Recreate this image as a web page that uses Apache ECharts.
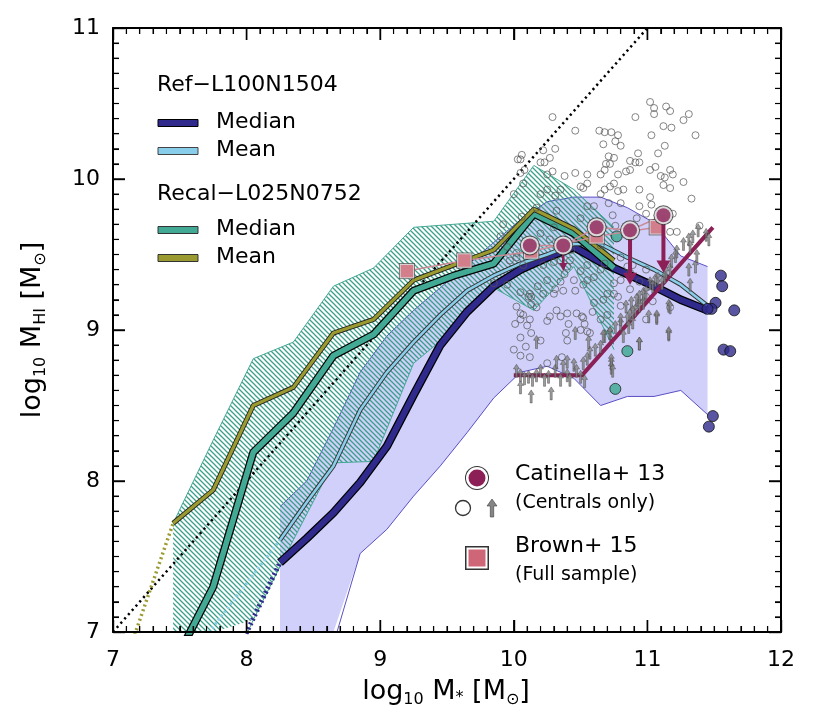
<!DOCTYPE html>
<html>
<head>
<meta charset="utf-8">
<script src="https://cdn.jsdelivr.net/npm/echarts@6/dist/echarts.min.js"></script>
<style>
  html, body { margin: 0; padding: 0; background: #fff; }
  #view { width: 830px; height: 718px; }
</style>
</head>
<body>
<div id="view"></div>
<script>
// ---- data (log10 M*, log10 MHI) ----
// Ref-L100N1504 bins
var refX      = [8.25, 8.45, 8.65, 8.85, 9.05, 9.25, 9.45, 9.65, 9.85, 10.05, 10.25, 10.45, 10.65, 10.85, 11.05, 11.25, 11.45];
var refMedian = [7.46, 7.62, 7.79, 7.99, 8.23, 8.57, 8.90, 9.12, 9.29, 9.40, 9.48, 9.55, 9.45, 9.37, 9.29, 9.20, 9.13];
var refMean   = [7.61, 7.86, 8.10, 8.47, 8.72, 8.92, 9.10, 9.26, 9.36, 9.44, 9.50, 9.57, 9.57, 9.48, 9.40, 9.30, 9.16];
var refHi     = [7.83, 8.00, 8.35, 8.72, 8.96, 9.13, 9.28, 9.43, 9.58, 9.73, 9.85, 9.88, 9.88, 9.81, 9.71, 9.49, 9.42];
var refLo     = [6.50, 6.70, 6.92, 7.52, 7.68, 7.90, 8.10, 8.32, 8.55, 8.72, 8.76, 8.68, 8.50, 8.56, 8.56, 8.60, 8.44];
var refMedDotX  = [7.85, 8.05, 8.25];
var refMedDot   = [6.72, 7.09, 7.46];
var refMeanDotX = [7.65, 7.85, 8.05, 8.25];
var refMeanDot  = [6.92, 7.15, 7.38, 7.61];
var refIndX = [11.55, 11.56, 11.51, 11.48, 11.45, 11.65, 11.57, 11.62, 11.49, 11.46];
var refIndY = [9.36, 9.29, 9.18, 9.14, 9.14, 9.13, 8.87, 8.86, 8.43, 8.36];

// Recal-L025N0752 bins
var recalX      = [7.45, 7.75, 8.05, 8.35, 8.65, 8.95, 9.25, 9.55, 9.85, 10.15, 10.45, 10.75];
var recalMedian = [6.78, 7.30, 8.19, 8.45, 8.83, 8.97, 9.26, 9.36, 9.44, 9.77, 9.64, 9.41];
var recalMean   = [7.72, 7.94, 8.50, 8.62, 8.98, 9.07, 9.33, 9.43, 9.53, 9.80, 9.67, 9.46];
var recalHi     = [7.72, 8.27, 8.81, 8.92, 9.29, 9.41, 9.68, 9.70, 9.72, 10.09, 9.93, 9.68];
var recalLo     = [6.00, 6.50, 7.08, 7.61, 8.12, 8.13, 8.78, 9.00, 9.28, 9.13, 9.42, 8.87];
var recalMeanDotX = [7.15, 7.45];
var recalMeanDot  = [6.95, 7.72];
var recalIndX = [10.77, 10.85, 10.76];
var recalIndY = [9.62, 8.86, 8.61];

// one-to-one line
var oneX = [7, 11];
var oneY = [7, 11];

// Catinella+13 stacks and Brown+15
var catX = [10.12, 10.37, 10.62, 10.87, 11.12];
var catY = [9.56, 9.56, 9.68, 9.66, 9.76];
var catArrowX   = [10.37, 10.87, 11.12];
var catArrowTop = [9.56, 9.66, 9.76];
var catArrowTip = [9.39, 9.30, 9.38];
var brownX = [9.20, 9.63, 10.13, 10.62, 11.07];
var brownY = [9.39, 9.46, 9.52, 9.62, 9.68];
var limX = [10.0, 10.51, 11.49];
var limY = [8.70, 8.70, 9.68];

// Catinella individual detections (open circles)
var detX = [10.29,10.46,10.64,10.68,10.73,10.78,10.76,10.80,10.67,10.91,11.02,11.05,11.05,11.14,11.17,11.27,11.31,11.36,11.12,11.18,
  11.03,11.13,11.08,10.93,10.87,10.91,10.94,10.71,10.75,10.69,10.72,10.06,10.05,10.08,10.22,10.31,10.27,10.20,10.23,10.29,
  10.25,10.46,10.55,10.65,10.68,10.78,10.84,10.87,11.02,11.06,11.10,11.13,11.17,11.19,
  10.20,10.25,10.31,10.07,10.35,10.38,10.52,10.55,10.65,10.75,10.80,10.82,10.17,10.32,10.06,10.00,10.30,10.50,10.20,10.27,
  10.02,10.65,10.80,10.85,10.75,10.70,10.46,10.52,10.31,10.11,10.05,9.95,9.85,
  10.50,10.68,10.72,10.78,10.94,11.02,11.03,11.12,11.17,11.27,11.33,11.39,11.19,11.17,11.22,10.94,10.92,10.99,10.74,10.76,
  10.60,10.55,10.71,10.43,10.42,10.55,10.65,10.68,10.80,10.99,10.50,10.40,10.35,10.30,10.22,10.07,10.02,9.97,10.38,10.35,
  10.25,10.18,10.22,10.12,10.37,10.60,10.55,10.75,10.78,10.67,10.60,10.52,10.32,10.35,10.40,10.05,10.10,10.17,10.13,10.45,
  10.30,10.50,10.65,10.87,10.89,10.94,10.87,10.80,10.94,10.99,11.04,10.99,11.17,
  10.02,10.05,10.07,10.13,10.01,10.12,10.25,10.27,10.41,10.47,10.51,10.53,10.59,10.70,10.05,10.09,10.00,10.13,10.20,10.39,
  10.40,10.55,10.57,10.05,10.12,10.25,10.36,10.03,10.05,9.90,9.95,9.92];
var detY = [10.41,10.32,10.32,10.31,10.31,10.29,10.25,10.22,10.23,10.41,10.51,10.47,10.43,10.48,10.45,10.39,10.43,10.29,10.35,10.34,
  10.29,10.22,10.17,10.17,10.12,10.11,10.11,10.15,10.14,10.10,10.10,10.16,10.13,10.06,10.19,10.20,10.14,10.11,10.11,10.05,
  10.03,10.04,10.03,10.03,10.06,10.03,10.05,10.06,10.06,10.08,10.02,10.01,10.06,10.03,
  9.90,9.93,9.89,9.97,9.93,10.02,9.94,9.97,9.90,9.97,9.84,9.93,9.81,9.79,9.75,9.90,9.68,9.74,9.64,9.60,
  9.51,9.56,9.48,9.42,9.31,9.24,9.26,9.30,9.27,9.22,9.25,9.30,9.31,
  9.95,9.93,9.95,9.92,9.93,9.88,9.83,9.96,9.94,9.98,9.87,9.69,9.77,9.65,9.65,9.82,9.74,9.77,9.76,9.69,
  9.82,9.82,9.84,9.53,9.46,9.43,9.40,9.44,9.33,9.40,9.39,9.42,9.46,9.45,9.43,9.43,9.48,9.46,9.37,9.32,
  9.33,9.29,9.24,9.24,9.26,9.35,9.33,9.24,9.22,9.20,9.18,9.08,9.13,9.09,9.11,9.07,9.03,9.15,9.22,9.33,
  9.24,9.00,9.07,9.38,9.43,9.32,9.27,9.16,9.18,9.22,9.19,9.07,9.15,
  9.155,9.11,9.10,9.17,9.04,9.07,9.06,9.09,9.04,9.11,9.09,9.04,9.12,9.10,8.95,8.89,8.87,8.98,8.93,8.98,
  8.93,8.99,8.98,8.83,8.82,8.78,8.82,10.13,10.04,9.62,9.55,9.70];

// Catinella non-detections (grey arrows)
var ndX = [10.02,10.05,10.08,10.11,10.14,10.17,10.20,10.23,10.26,10.31,10.35,10.37,10.40,10.42,10.45,10.47,10.50,10.53,10.05,10.13,
  10.28,10.32,10.40,10.52,10.55,10.57,10.61,10.65,10.68,10.72,10.76,10.80,10.82,10.85,10.87,10.89,10.91,10.94,10.97,10.94,
  10.73,10.73,10.56,10.46,10.17,11.07,11.16,11.16,
  10.84,10.88,10.89,10.92,10.94,10.97,10.99,11.02,11.04,11.06,11.08,11.11,11.13,11.14,11.17,11.18,11.21,11.22,11.27,11.31,
  11.32,11.34,11.38,11.44,11.46,11.36,11.37,11.31,11.32,11.17,11.07,11.01,10.94,10.73,10.74,11.16,10.86,10.80,10.72,10.67];
var ndY = [8.73,8.70,8.68,8.69,8.67,8.70,8.73,8.67,8.69,8.73,8.67,8.76,8.70,8.67,8.77,8.73,8.69,8.66,8.62,8.56,
  8.58,8.79,8.79,8.78,8.81,8.85,8.87,8.89,8.96,8.98,9.02,9.04,8.96,9.07,9.10,9.05,9.13,9.16,9.18,8.91,
  8.78,8.75,8.92,8.98,8.92,9.08,8.97,9.16,
  9.155,9.18,9.12,9.20,9.22,9.24,9.25,9.31,9.29,9.33,9.34,9.31,9.35,9.38,9.40,9.46,9.49,9.52,9.57,9.60,
  9.55,9.62,9.66,9.63,9.60,9.42,9.49,9.40,9.30,9.15,9.09,9.09,8.91,8.80,8.73,8.98,9.02,9.07,8.98,8.96];

// ---- colours ----
var NAVY = '#2f2a8c', SKY = '#88cdea', TEAL = '#42a995', OLIVE = '#9a9a30';
var MAROON = '#8c1f55', PINK = '#cf6677', LAV = '#d0d0fa', LAVLINE = '#5b4fc4';
var FONT = 'DejaVu Sans';

function xy(xs, ys) { return xs.map(function (x, i) { return [x, ys[i]]; }); }

var zc = 1;
function line(xs, ys, color, width, type) {
  return {
    type: 'line', data: xy(xs, ys), symbol: 'none', silent: true, z: zc++,
    lineStyle: { color: color, width: width, type: type || 'solid', cap: 'butt', join: 'round' }
  };
}
function scatter(xs, ys, size, style, symbol) {
  return {
    type: 'scatter', data: xy(xs, ys), symbol: symbol || 'circle', symbolSize: size,
    itemStyle: style, silent: true, z: zc++
  };
}

function hatchPattern() {
  var c = document.createElement('canvas');
  c.width = 5; c.height = 5;
  var g = c.getContext('2d');
  g.strokeStyle = '#3a9f8a';
  g.lineWidth = 1.25;
  g.beginPath();
  g.moveTo(-1, -1); g.lineTo(6, 6);
  g.moveTo(-1, 4); g.lineTo(1, 6);
  g.moveTo(4, -1); g.lineTo(6, 1);
  g.stroke();
  return c;
}

function band(xs, lo, hi, fill) {
  return {
    type: 'custom', silent: true, z: zc++,
    data: [[xs[0], hi[0]]],
    renderItem: function (params, api) {
      var pts = [];
      for (var i = 0; i < xs.length; i++) pts.push(api.coord([xs[i], hi[i]]));
      for (var j = xs.length - 1; j >= 0; j--) pts.push(api.coord([xs[j], lo[j]]));
      var cs = params.coordSys;
      pts = echarts.graphic.clipPointsByRect(pts, { x: cs.x, y: cs.y, width: cs.width, height: cs.height });
      return { type: 'polygon', shape: { points: pts }, style: { fill: fill } };
    }
  };
}

var series = [];
series.push(band(refX, refLo, refHi, LAV));
series.push(line(refX, refHi, LAVLINE, 1));
series.push(line(refX, refLo, LAVLINE, 1));
series.push(band(recalX, recalLo, recalHi, { image: hatchPattern(), repeat: 'repeat' }));
series.push(line(recalX, recalHi, '#44a894', 1));
series.push(line(recalX, recalLo, '#44a894', 1));
series.push(line(oneX, oneY, '#000', 2.5, [2.2, 3.5]));

// simulation curves (outlined)
series.push(line(refMedDotX, refMedDot, NAVY, 5, [2, 3]));
series.push(line(refX, refMedian, '#000', 8.5));
series.push(line(refX, refMedian, NAVY, 6));
series.push(line(refMeanDotX, refMeanDot, SKY, 3, [2, 3]));
series.push(line(refX, refMean, '#333', 4.5));
series.push(line(refX, refMean, SKY, 2.6));
series.push(line(recalX, recalMedian, '#000', 8));
series.push(line(recalX, recalMedian, TEAL, 5.5));
series.push(line(recalMeanDotX, recalMeanDot, OLIVE, 3.5, [2, 3]));
series.push(line(recalX, recalMean, '#222', 5));
series.push(line(recalX, recalMean, OLIVE, 3.2));

// observations
series.push(scatter(detX, detY, 7, { color: 'rgba(0,0,0,0)', borderColor: '#555', borderWidth: 0.9 }));
series.push(line(limX, limY, MAROON, 4));
series.push(scatter(ndX, ndY, [6, 13], { color: '#858585', borderColor: '#3c3c3c', borderWidth: 0.5 },
  'path://M3,0 L6,5 L4,5 L4,14 L2,14 L2,5 L0,5 Z'));
series.push(scatter(refIndX, refIndY, 11, { color: NAVY, borderColor: '#111', borderWidth: 1 }));
series.push(scatter(recalIndX, recalIndY, 11, { color: '#3aa88e', borderColor: '#222', borderWidth: 1 }));
series.push(line(brownX, brownY, '#c98a96', 1.5));
series.push(line(catX, catY, '#c98a96', 1.5));
series.push(scatter(brownX, brownY, 16, { color: '#333' }, 'rect'));
series.push(scatter(brownX, brownY, 14.5, { color: '#fff' }, 'rect'));
series.push(scatter(brownX, brownY, 12.5, { color: PINK }, 'rect'));
series.push({
  type: 'custom', silent: true, z: zc++,
  data: catArrowX.map(function (x, i) { return [x, catArrowTop[i], catArrowTip[i]]; }),
  encode: { x: 0, y: [1, 2] },
  renderItem: function (params, api) {
    var a = api.coord([api.value(0), api.value(1)]);
    var b = api.coord([api.value(0), api.value(2)]);
    var big = (b[1] - a[1]) > 40;
    var hl = big ? 12 : 8, hw = big ? 7 : 4;
    return {
      type: 'group', children: [
        { type: 'line', shape: { x1: a[0], y1: a[1], x2: b[0], y2: b[1] - hl + 1 },
          style: { stroke: MAROON, lineWidth: big ? 4 : 2.5 } },
        { type: 'polygon', shape: { points: [[b[0] - hw, b[1] - hl], [b[0] + hw, b[1] - hl], [b[0], b[1]]] },
          style: { fill: MAROON } }
      ]
    };
  }
});
series.push(scatter(catX, catY, 20, { color: '#333' }));
series.push(scatter(catX, catY, 18, { color: '#fff' }));
series.push(scatter(catX, catY, 14, { color: MAROON }));

// ---- axes (frame on all four sides, inward ticks, no axis names) ----
function axis(pos, max, showLabel, margin) {
  return {
    type: 'value', position: pos, min: 7, max: max, interval: 1, z: 50,
    axisLine: { show: true, onZero: false, lineStyle: { color: '#000', width: 2 } },
    axisTick: { show: true, inside: true, length: 12, lineStyle: { color: '#000', width: 1.4 } },
    minorTick: { show: true, splitNumber: 10, length: 6, lineStyle: { color: '#000', width: 1.1 } },
    splitLine: { show: false },
    axisLabel: { show: showLabel, color: '#000', fontSize: 22, fontFamily: FONT, margin: margin || 8 }
  };
}

// ---- titles and legend drawn as graphics ----
var measureCtx = document.createElement('canvas').getContext('2d');
function textWidth(s, size) {
  measureCtx.font = size + 'px "' + FONT + '"';
  return measureCtx.measureText(s).width;
}
// axis title built from plain pieces: big text and lowered subscripts
function title(parts, cx, cy, rotation) {
  var total = 0;
  parts.forEach(function (p) { total += textWidth(p[0], p[1]); });
  var x = -total / 2, kids = [];
  parts.forEach(function (p) {
    kids.push({ type: 'text', x: x, y: p[2], silent: true,
      style: { text: p[0], font: p[1] + 'px "' + FONT + '"', fill: '#000', verticalAlign: 'middle', align: 'left' } });
    x += textWidth(p[0], p[1]);
  });
  return { type: 'group', x: cx, y: cy, rotation: rotation, z: 100, silent: true, children: kids };
}
var xTitle = [['log', 27, 0], ['10', 16, 8], [' M', 27, 0], ['*', 16, 6], [' [M', 27, 0], ['\u2299', 16, 8], [']', 27, 0]];
var yTitle = [['log', 27, 0], ['10', 16, 8], [' M', 27, 0], ['HI', 16, 8], [' [M', 27, 0], ['\u2299', 16, 8], [']', 27, 0]];

function txt(s, x, y, size) {
  return { type: 'text', x: x, y: y, silent: true, z: 100,
    style: { text: s, font: size + 'px "' + FONT + '"', fill: '#000', verticalAlign: 'middle', align: 'left' } };
}
function swatch(y, color, edge) {
  return { type: 'rect', silent: true, z: 100, shape: { x: 158, y: y - 3.5, width: 40, height: 7 },
    style: { fill: color, stroke: edge, lineWidth: 1 } };
}
var graphics = [
  title(xTitle, 446, 692, 0),
  title(yTitle, 33, 330, Math.PI / 2),
  txt('Ref\u2212L100N1504', 157, 85, 22),
  swatch(123, NAVY, '#000'), txt('Median', 216, 122, 22),
  swatch(151, SKY, '#444'), txt('Mean', 216, 150, 22),
  txt('Recal\u2212L025N0752', 157, 194, 22),
  swatch(230, TEAL, '#333'), txt('Median', 216, 229, 22),
  swatch(258, OLIVE, '#333'), txt('Mean', 216, 257, 22),
  { type: 'circle', z: 100, shape: { cx: 477, cy: 478, r: 12 }, style: { fill: '#333' } },
  { type: 'circle', z: 100, shape: { cx: 477, cy: 478, r: 11 }, style: { fill: '#fff' } },
  { type: 'circle', z: 100, shape: { cx: 477, cy: 478, r: 8.5 }, style: { fill: MAROON } },
  { type: 'circle', z: 100, shape: { cx: 463, cy: 508, r: 7.5 }, style: { fill: 'none', stroke: '#333', lineWidth: 1.3 } },
  { type: 'polygon', z: 100, shape: { points: [[492, 499], [497, 506], [493.7, 506], [493.7, 517], [490.3, 517], [490.3, 506], [487, 506]] },
    style: { fill: '#858585', stroke: '#3c3c3c', lineWidth: 0.6 } },
  txt('Catinella+ 13', 515, 474, 22),
  txt('(Centrals only)', 515, 503, 19),
  { type: 'rect', z: 100, shape: { x: 465, y: 546, width: 24, height: 24 }, style: { fill: '#333' } },
  { type: 'rect', z: 100, shape: { x: 466.5, y: 547.5, width: 21, height: 21 }, style: { fill: '#fff' } },
  { type: 'rect', z: 100, shape: { x: 468.5, y: 549.5, width: 17, height: 17 }, style: { fill: PINK } },
  txt('Brown+ 15', 515, 546, 22),
  txt('(Full sample)', 515, 575, 19)
];

var myChart = echarts.init(document.getElementById('view'));
try {
  myChart.setOption({
    animation: false,
    grid: { left: 113, right: 49, top: 28, bottom: 86 },
    xAxis: [axis('bottom', 12, true, 17), axis('top', 12, false)],
    yAxis: [axis('left', 11, true, 13), axis('right', 11, false)],
    series: series,
    graphic: graphics
  });
} catch (e) { console.error(e); }

// backup tick marks placed through the axis scales, in case the axis ticks do not draw
try {
  var tickEls = [];
  var tickLine = function (x1, y1, x2, y2, major) {
    tickEls.push({ type: 'line', silent: true, z: 110, shape: { x1: x1, y1: y1, x2: x2, y2: y2 },
      style: { stroke: '#000', lineWidth: major ? 1.4 : 1.1 } });
  };
  var finder = { xAxisIndex: 0, yAxisIndex: 0 };
  for (var i = 1; i < 50; i++) {
    var v = 7 + i / 10, major = i % 10 === 0, len = major ? 12 : 6;
    var pb = myChart.convertToPixel(finder, [v, 7]);
    var pt = myChart.convertToPixel(finder, [v, 11]);
    tickLine(pb[0], pb[1], pb[0], pb[1] - len, major);
    tickLine(pt[0], pt[1], pt[0], pt[1] + len, major);
  }
  for (var j = 1; j < 40; j++) {
    var w = 7 + j / 10, majorY = j % 10 === 0, lenY = majorY ? 12 : 6;
    var pl = myChart.convertToPixel(finder, [7, w]);
    var pr = myChart.convertToPixel(finder, [12, w]);
    tickLine(pl[0], pl[1], pl[0] + lenY, pl[1], majorY);
    tickLine(pr[0], pr[1], pr[0] - lenY, pr[1], majorY);
  }
  myChart.setOption({ graphic: graphics.concat(tickEls) });
} catch (e2) { console.error(e2); }
</script>
</body>
</html>
